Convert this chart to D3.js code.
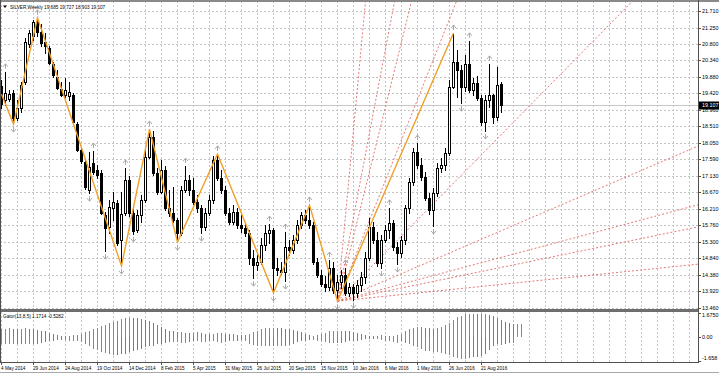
<!DOCTYPE html>
<html>
<head>
<meta charset="utf-8">
<script src="https://cdn.jsdelivr.net/npm/d3@7"></script>
<style>
  body { margin: 0; background: #fff; }
  svg { display: block; }
  text { font-family: "Liberation Sans", Arial, sans-serif; fill: #000; }
</style>
</head>
<body>
<div id="chart"></div>
<script>
// weekly silver bars, first bar = week of 4 May 2014
const openP = [19.63,19.24,19.27,19.43,18.74,19.02,19.74,20.79,21.02,21.40,
  21.13,20.85,20.68,20.24,19.88,19.54,19.38,19.35,19.38,18.57,
  17.85,17.52,16.74,17.49,17.29,17.21,16.04,15.71,16.24,16.38,
  15.35,16.10,17.02,16.10,15.63,16.04,16.46,17.65,18.21,17.21,
  16.68,17.29,16.24,16.10,15.91,15.54,16.74,17.02,16.74,16.40,
  16.24,15.71,16.10,16.46,17.57,17.07,16.74,16.10,15.85,16.13,
  15.77,15.68,15.54,14.85,14.65,14.74,15.21,15.54,15.63,14.57,
  14.52,14.46,15.15,15.07,15.35,15.77,16.04,15.91,15.77,14.74,
  14.38,14.13,14.04,14.57,13.96,14.18,14.38,13.88,14.04,13.88,
  14.10,14.32,14.85,15.71,15.35,14.71,15.35,15.63,15.82,15.15,
  14.99,15.35,16.24,16.96,17.79,17.43,17.10,16.52,16.18,16.65,
  17.35,17.43,17.77,19.60,20.29,20.07,19.60,20.24,19.52,19.71,
  19.29,18.63,19.24,19.38,18.77,19.685]
const highP = [19.79,20.02,19.52,19.52,19.24,19.74,20.96,21.18,21.46,21.52,
  21.35,21.10,20.74,20.29,20.07,19.74,19.85,19.74,19.43,18.63,
  17.93,17.57,17.79,17.82,17.43,17.29,16.13,16.46,16.68,16.46,
  16.68,17.35,17.13,16.24,16.18,16.60,17.85,18.43,18.38,17.35,
  17.57,17.40,16.74,16.82,15.96,16.85,17.40,17.15,17.07,16.60,
  16.32,16.24,16.60,17.68,17.74,17.29,16.85,16.24,16.32,16.24,
  16.04,15.79,15.63,15.07,14.93,15.40,15.77,15.79,15.68,14.85,
  14.74,15.57,15.35,15.49,15.91,16.13,16.18,16.32,15.85,14.85,
  14.52,14.35,14.79,14.74,14.38,14.52,14.57,14.15,14.13,14.24,
  14.46,15.02,15.96,15.85,15.57,15.49,15.77,16.24,15.91,15.29,
  15.46,16.32,17.07,17.90,18.04,17.63,17.24,16.65,16.79,17.49,
  17.63,17.90,19.79,21.10,20.63,20.21,20.49,20.88,19.85,19.90,
  19.38,19.38,20.24,19.40,20.15,19.727]
const lowP = [19.02,19.10,19.21,18.57,18.68,18.90,19.68,20.71,20.90,21.02,
  20.74,20.54,20.24,19.88,19.54,19.35,19.32,19.24,18.57,17.82,
  17.49,16.77,16.65,17.18,17.07,16.07,15.04,15.54,15.91,15.21,
  14.63,16.04,16.02,15.52,15.57,15.85,16.40,17.63,17.15,16.63,
  16.65,16.18,16.02,15.85,15.29,15.49,16.68,16.60,16.35,16.13,
  15.54,15.63,16.04,16.38,17.02,16.65,16.04,15.79,15.79,15.68,
  15.57,15.46,14.68,14.29,14.52,14.68,15.07,15.27,13.88,14.38,
  14.41,14.21,14.93,14.99,15.27,15.68,15.82,15.68,14.68,14.32,
  14.07,13.93,13.96,13.88,13.65,14.02,13.82,13.79,13.68,13.77,
  13.93,14.15,14.80,15.27,14.63,14.57,15.30,15.40,15.07,14.68,
  14.88,15.24,16.10,16.88,17.35,17.02,16.46,16.07,15.74,16.57,
  17.24,17.29,17.72,19.57,19.32,19.15,19.49,19.46,19.38,19.24,
  18.54,18.38,19.04,18.60,18.68,18.903]
const closeP = [19.13,19.43,19.40,18.74,19.02,19.65,20.85,21.10,21.40,21.13,
  20.82,20.74,20.27,19.93,19.57,19.38,19.52,19.46,18.63,17.85,
  17.54,16.82,17.38,17.24,17.15,16.10,15.68,16.27,16.40,15.27,
  16.07,17.02,16.10,15.60,16.04,16.46,17.65,18.21,17.21,16.68,
  17.29,16.24,16.10,15.91,15.54,16.74,17.02,16.74,16.40,16.24,
  15.71,16.10,16.46,17.57,17.07,16.74,16.10,15.85,16.13,15.77,
  15.68,15.54,14.85,14.65,14.74,15.21,15.54,15.63,14.57,14.52,
  14.46,15.15,15.07,15.35,15.77,16.04,15.91,15.77,14.74,14.38,
  14.13,14.04,14.57,13.96,14.18,14.38,13.88,14.04,13.88,14.10,
  14.32,14.85,15.71,15.35,14.71,15.35,15.63,15.82,15.15,14.99,
  15.35,16.24,16.96,17.79,17.43,17.10,16.52,16.18,16.65,17.35,
  17.43,17.77,19.60,20.29,20.07,19.60,20.24,19.52,19.71,19.29,
  18.63,19.24,19.38,18.77,19.65,19.107]

// fractal marks (bar index)
const fractalUp = [1, 9, 23, 31, 37, 46, 54, 67, 71, 77, 82, 86, 97, 104, 113, 117, 122]
const fractalDown = [3, 22, 26, 30, 33, 44, 50, 63, 68, 71, 84, 88, 95, 99, 108, 115, 121]

// zigzag turning points
const zigzagBars = [0, 3, 9, 30, 37, 44, 54, 68, 77, 84, 113]
const zigzagPrices = [19.40, 18.57, 21.52, 14.63, 18.43, 15.29, 17.74, 13.88, 16.32, 13.65, 21.10]

// fan from the december 2015 low, slope in price per bar
const fanOrigin = [84, 13.65]
const fanSlopes = [1.19, 0.584, 0.45, 0.28, 0.113, 0.0478, 0.0297, 0.0229, 0.0114]

// gator oscillator (upper runs 5 bars past the last candle, lower 3)
const gatorUp = [0.55,0.58,0.6,0.58,0.55,0.58,0.6,0.58,0.55,0.5,
  0.45,0.4,0.3,0.2,0.15,0.1,0.08,0.1,0.12,0.15,
  0.23,0.35,0.45,0.55,0.65,0.75,0.85,0.95,1.05,1.15,
  1.25,1.34,1.36,1.34,1.3,1.25,1.18,1.1,1.0,0.85,
  0.7,0.55,0.45,0.4,0.35,0.35,0.3,0.28,0.3,0.35,
  0.3,0.25,0.2,0.25,0.3,0.3,0.25,0.2,0.2,0.15,
  0.12,0.15,0.25,0.35,0.45,0.55,0.6,0.65,0.65,0.62,
  0.6,0.58,0.55,0.5,0.45,0.35,0.25,0.15,0.1,0.12,
  0.2,0.3,0.4,0.45,0.45,0.45,0.42,0.4,0.35,0.3,
  0.25,0.15,0.1,0.08,0.1,0.12,0.1,0.08,0.1,0.15,
  0.25,0.4,0.55,0.65,0.7,0.7,0.65,0.6,0.55,0.6,
  0.7,0.85,1.0,1.2,1.4,1.5,1.6,1.6,1.62,1.6,
  1.6,1.6,1.55,1.5,1.35,1.17,1.05,0.95,0.9,0.9,0.9]
const gatorDown = [-0.45,-0.46,-0.48,-0.5,-0.48,-0.45,-0.46,-0.5,-0.48,-0.45,
  -0.4,-0.35,-0.3,-0.25,-0.22,-0.2,-0.22,-0.25,-0.28,-0.3,
  -0.35,-0.5,-0.65,-0.8,-0.9,-1.0,-1.1,-1.2,-1.27,-1.25,
  -1.2,-1.15,-1.05,-0.95,-0.9,-0.8,-0.7,-0.65,-0.6,-0.5,
  -0.45,-0.4,-0.35,-0.35,-0.35,-0.4,-0.4,-0.35,-0.3,-0.3,
  -0.35,-0.35,-0.3,-0.3,-0.35,-0.4,-0.35,-0.3,-0.3,-0.25,
  -0.2,-0.3,-0.45,-0.55,-0.6,-0.65,-0.65,-0.62,-0.6,-0.6,
  -0.62,-0.6,-0.55,-0.45,-0.35,-0.3,-0.25,-0.2,-0.2,-0.25,
  -0.3,-0.35,-0.4,-0.42,-0.4,-0.38,-0.35,-0.3,-0.28,-0.25,
  -0.2,-0.15,-0.12,-0.1,-0.15,-0.2,-0.25,-0.3,-0.35,-0.4,
  -0.3,-0.4,-0.5,-0.6,-0.7,-0.8,-0.93,-0.93,-1.0,-1.04,
  -1.1,-1.16,-1.25,-1.39,-1.45,-1.5,-1.5,-1.45,-1.4,-1.35,
  -1.3,-1.2,-0.9,-0.6,-0.5,-0.53,-0.45,-0.4,-0.4]

// axis texts
const priceTicks = [13.46, 13.92, 14.38, 14.84, 15.30, 15.76, 16.21, 16.67, 17.13, 17.59,
  18.05, 18.51, 18.96, 19.42, 19.88, 20.34, 20.80, 21.25, 21.71]
const gatorTicks = [1.675, 0, -1.658]
const gatorTickLabels = ["1.6750", "0.00", "-1.658"]
const dateLabels = ["4 May 2014", "29 Jun 2014", "24 Aug 2014", "19 Oct 2014", "14 Dec 2014",
  "8 Feb 2015", "5 Apr 2015", "31 May 2015", "26 Jul 2015", "20 Sep 2015", "15 Nov 2015",
  "10 Jan 2016", "6 Mar 2016", "1 May 2016", "26 Jun 2016", "21 Aug 2016"]
const titleText = "SILVER,Weekly  19.685 19.727 18.903 19.107"
const gatorTitle = "Gator(13,8,5) 1.1714 -0.5282"

// layout
const width = 719
const height = 374
const plotRight = 698
const mainTop = 1
const mainBottom = 309
const subTop = 312
const subBottom = 362

const svg = d3.select("#chart")
  .append("svg")
  .attr("width", width)
  .attr("height", height)

// scales
const xScale = d3.scaleLinear().domain([0, 125]).range([1.5, 501.5])
const yScale = d3.scaleLinear().domain([13.46, 21.71]).range([308, 11])
const gScale = d3.scaleLinear().domain([-1.658, 1.675]).range([361, 313])

// squeezed small text like the terminal font
function smallText(g, x, y, str, sx, size) {
  return g.append("text")
    .attr("transform", `translate(${x},${y}) scale(${sx},1)`)
    .attr("font-size", size || 6)
    .text(str)
}

svg.append("defs").append("clipPath").attr("id", "mainClip")
  .append("rect").attr("x", 0).attr("y", mainTop).attr("width", plotRight).attr("height", mainBottom - mainTop)

const grid = svg.append("g")
  .attr("stroke", "#c4c4c4")
  .attr("stroke-dasharray", "2,2")
  .attr("shape-rendering", "crispEdges")

// horizontal grid at price ticks
grid.selectAll("line.h")
  .data(priceTicks)
  .join("line")
  .attr("class", "h")
  .attr("x1", 0).attr("x2", plotRight)
  .attr("y1", d => Math.round(yScale(d)) + 0.5)
  .attr("y2", d => Math.round(yScale(d)) + 0.5)

// vertical grid every 4 bars, both panes
const vBars = d3.range(0, 175, 4).filter(i => xScale(i) < plotRight)
grid.selectAll("line.v")
  .data(vBars)
  .join("line")
  .attr("class", "v")
  .attr("x1", d => xScale(d)).attr("x2", d => xScale(d))
  .attr("y1", mainTop).attr("y2", mainBottom)
grid.selectAll("line.v2")
  .data(vBars)
  .join("line")
  .attr("class", "v2")
  .attr("x1", d => xScale(d)).attr("x2", d => xScale(d))
  .attr("y1", subTop).attr("y2", subBottom)

const main = svg.append("g").attr("clip-path", "url(#mainClip)")

// bid line
main.append("line")
  .attr("x1", 0).attr("x2", plotRight)
  .attr("y1", Math.round(yScale(closeP[closeP.length - 1])) + 0.5)
  .attr("y2", Math.round(yScale(closeP[closeP.length - 1])) + 0.5)
  .attr("stroke", "#c8c8c8")
  .attr("shape-rendering", "crispEdges")

// fan lines
const fanEnd = 180
main.selectAll("line.fan")
  .data(fanSlopes)
  .join("line")
  .attr("class", "fan")
  .attr("x1", xScale(fanOrigin[0]))
  .attr("y1", yScale(fanOrigin[1]))
  .attr("x2", xScale(fanEnd))
  .attr("y2", d => yScale(fanOrigin[1] + d * (fanEnd - fanOrigin[0])))
  .attr("stroke", "#e06a64")
  .attr("stroke-width", 0.9)
  .attr("stroke-dasharray", "2,2")

// candles
const bars = openP.map((o, i) => ({i, o, h: highP[i], l: lowP[i], c: closeP[i]}))

main.selectAll("line.wick")
  .data(bars)
  .join("line")
  .attr("class", "wick")
  .attr("x1", d => xScale(d.i)).attr("x2", d => xScale(d.i))
  .attr("y1", d => Math.round(yScale(d.h)))
  .attr("y2", d => Math.round(yScale(d.l)) + 1)
  .attr("stroke", "#000")
  .attr("shape-rendering", "crispEdges")

main.selectAll("rect.body")
  .data(bars)
  .join("rect")
  .attr("class", "body")
  .attr("x", d => xScale(d.i) - 1)
  .attr("y", d => Math.round(yScale(Math.max(d.o, d.c))) + 0.5)
  .attr("width", 2)
  .attr("height", d => Math.max(1, Math.round(Math.abs(yScale(d.o) - yScale(d.c)))))
  .attr("fill", d => d.c >= d.o ? "#fff" : "#000")
  .attr("stroke", "#000")
  .attr("shape-rendering", "crispEdges")

// zigzag
const zigzagLine = d3.line()
  .x(d => xScale(d[0]))
  .y(d => yScale(d[1]))

main.append("path")
  .datum(zigzagBars.map((b, k) => [b, zigzagPrices[k]]))
  .attr("d", zigzagLine)
  .attr("fill", "none")
  .attr("stroke", "#f0a028")
  .attr("stroke-width", 1.4)

// fractal arrows
main.selectAll("path.fup")
  .data(fractalUp)
  .join("path")
  .attr("class", "fup")
  .attr("transform", d => `translate(${xScale(d)},${yScale(highP[d]) - 6})`)
  .attr("d", "M-2.5,1L0,-2L2.5,1M0,-2V3")
  .attr("fill", "none")
  .attr("stroke", "#a0a0a0")
  .attr("stroke-width", 0.9)

main.selectAll("path.fdn")
  .data(fractalDown)
  .join("path")
  .attr("class", "fdn")
  .attr("transform", d => `translate(${xScale(d)},${yScale(lowP[d]) + 6})`)
  .attr("d", "M-2.5,-1L0,2L2.5,-1M0,2V-3")
  .attr("fill", "none")
  .attr("stroke", "#a0a0a0")
  .attr("stroke-width", 0.9)

// gator histogram as 1px filled bars
const blueC = "rgb(70,150,225)"
const redC = "rgb(225,80,80)"
const zeroY = Math.round(gScale(0))
const gator = svg.append("g").attr("shape-rendering", "crispEdges")
gator.selectAll("rect.gup")
  .data(gatorUp)
  .join("rect")
  .attr("class", "gup")
  .attr("x", (d, i) => Math.floor(xScale(i)))
  .attr("width", 1)
  .attr("y", d => Math.round(gScale(d)))
  .attr("height", d => zeroY - Math.round(gScale(d)))
  .style("fill", (d, i) => i > 0 && d < gatorUp[i - 1] ? redC : blueC)

gator.selectAll("rect.gdn")
  .data(gatorDown)
  .join("rect")
  .attr("class", "gdn")
  .attr("x", (d, i) => Math.floor(xScale(i)))
  .attr("width", 1)
  .attr("y", zeroY)
  .attr("height", d => Math.round(gScale(d)) - zeroY)
  .style("fill", (d, i) => i > 0 && Math.abs(d) < Math.abs(gatorDown[i - 1]) ? redC : blueC)

// frame
const frame = svg.append("g").attr("shape-rendering", "crispEdges")
frame.append("rect").attr("x", 0).attr("y", 0).attr("width", width).attr("height", 1.5).attr("fill", "#8a8a8a")
frame.append("rect").attr("x", 0).attr("y", mainBottom).attr("width", plotRight + 1).attr("height", 2.5).attr("fill", "#6e6e6e")
frame.append("line").attr("x1", 0.5).attr("x2", 0.5).attr("y1", 0).attr("y2", subBottom).attr("stroke", "#505050")
frame.append("line").attr("x1", plotRight + 0.5).attr("x2", plotRight + 0.5).attr("y1", 0).attr("y2", subBottom).attr("stroke", "#505050")
frame.append("line").attr("x1", 0).attr("x2", plotRight + 1).attr("y1", subBottom + 0.5).attr("y2", subBottom + 0.5).attr("stroke", "#505050")
frame.append("line").attr("x1", 0).attr("x2", width).attr("y1", 372.5).attr("y2", 372.5).attr("stroke", "#a8a8a8")

// price axis
const axisG = svg.append("g")
axisG.selectAll("line")
  .data(priceTicks)
  .join("line")
  .attr("x1", plotRight).attr("x2", plotRight + 3)
  .attr("y1", d => Math.round(yScale(d)) + 0.5).attr("y2", d => Math.round(yScale(d)) + 0.5)
  .attr("stroke", "#505050")
  .attr("shape-rendering", "crispEdges")
priceTicks.forEach(v => smallText(axisG, 702, yScale(v) + 2, d3.format(".3f")(v), 0.9))

// last price tag
axisG.append("rect")
  .attr("x", plotRight + 1).attr("y", Math.round(yScale(closeP[closeP.length - 1])) - 3.5)
  .attr("width", width - plotRight - 1).attr("height", 8)
  .attr("fill", "#000")
smallText(axisG, 702, yScale(closeP[closeP.length - 1]) + 2, d3.format(".3f")(closeP[closeP.length - 1]), 0.9)
  .style("fill", "#fff")

// gator axis
gatorTicks.forEach((v, k) => {
  const yy = Math.min(358, Math.max(315, gScale(v)))
  axisG.append("line")
    .attr("x1", plotRight).attr("x2", plotRight + 3)
    .attr("y1", Math.round(gScale(v)) + 0.5).attr("y2", Math.round(gScale(v)) + 0.5)
    .attr("stroke", "#505050")
  smallText(axisG, 702, yy + 2, gatorTickLabels[k], 0.9)
})

// date axis
dateLabels.forEach((lab, k) => {
  const bx = xScale(k * 8)
  axisG.append("line")
    .attr("x1", bx).attr("x2", bx)
    .attr("y1", subBottom).attr("y2", subBottom + 3)
    .attr("stroke", "#505050")
    .attr("shape-rendering", "crispEdges")
  smallText(axisG, bx - 0.5, 369.5, lab, 0.78)
})

// titles
svg.append("path")
  .attr("d", "M3,5.5L7,5.5L5,8Z")
  .attr("fill", "#000")
smallText(svg, 10, 8.5, titleText, 0.78)
smallText(svg, 3, 317.5, gatorTitle, 0.78)
</script>
</body>
</html>
